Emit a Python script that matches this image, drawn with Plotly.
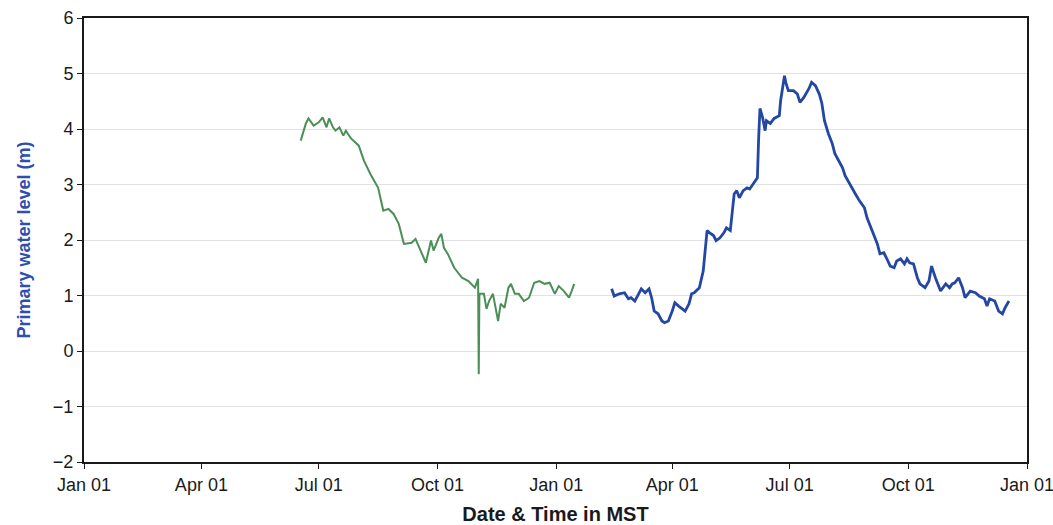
import plotly.graph_objects as go

# Series 1 (green) - first year record
green_dates = [
    "2012-06-17", "2012-06-21", "2012-06-23", "2012-06-27", "2012-07-01", "2012-07-04",
    "2012-07-07", "2012-07-09", "2012-07-12", "2012-07-14", "2012-07-17", "2012-07-20",
    "2012-07-22", "2012-07-26", "2012-08-01", "2012-08-05", "2012-08-10", "2012-08-16",
    "2012-08-20", "2012-08-24", "2012-08-28", "2012-09-01", "2012-09-05", "2012-09-11",
    "2012-09-14", "2012-09-18", "2012-09-22", "2012-09-26", "2012-09-28", "2012-10-02",
    "2012-10-04", "2012-10-06", "2012-10-09", "2012-10-14", "2012-10-20", "2012-10-25",
    "2012-10-30", "2012-11-01 12:00", "2012-11-02 00:00", "2012-11-02 12:00", "2012-11-06",
    "2012-11-08", "2012-11-10", "2012-11-13", "2012-11-17", "2012-11-19", "2012-11-22",
    "2012-11-25", "2012-11-27", "2012-11-30", "2012-12-03", "2012-12-07", "2012-12-11",
    "2012-12-15", "2012-12-19", "2012-12-23", "2012-12-27", "2012-12-31", "2013-01-03",
    "2013-01-07", "2013-01-11", "2013-01-13", "2013-01-15",
]
green_level = [
    3.79, 4.10, 4.19, 4.06, 4.12, 4.21,
    4.03, 4.19, 4.03, 3.97, 4.03, 3.88,
    3.97, 3.83, 3.70, 3.43, 3.19, 2.94,
    2.53, 2.56, 2.47, 2.29, 1.93, 1.95,
    2.02, 1.81, 1.59, 1.99, 1.81, 2.04,
    2.11, 1.86, 1.75, 1.50, 1.32, 1.26,
    1.14, 1.30, -0.42, 1.03, 1.03,
    0.76, 0.90, 1.03, 0.54, 0.85, 0.78,
    1.14, 1.21, 1.03, 1.03, 0.90, 0.96,
    1.23, 1.26, 1.21, 1.23, 1.03, 1.17,
    1.08, 0.96, 1.08, 1.21,
]

# Series 2 (blue) - second year record
blue_dates = [
    "2013-02-13", "2013-02-15", "2013-02-19", "2013-02-23", "2013-02-26", "2013-02-28",
    "2013-03-03", "2013-03-06", "2013-03-08", "2013-03-11", "2013-03-14", "2013-03-16",
    "2013-03-18", "2013-03-21", "2013-03-24", "2013-03-26", "2013-03-29", "2013-04-01",
    "2013-04-03", "2013-04-06", "2013-04-08", "2013-04-11", "2013-04-14", "2013-04-16",
    "2013-04-18", "2013-04-22", "2013-04-25", "2013-04-28", "2013-04-30", "2013-05-03",
    "2013-05-05", "2013-05-08", "2013-05-11", "2013-05-13", "2013-05-16", "2013-05-19",
    "2013-05-21", "2013-05-23", "2013-05-26", "2013-05-29", "2013-05-31", "2013-06-03",
    "2013-06-06", "2013-06-07", "2013-06-08", "2013-06-10", "2013-06-12", "2013-06-13",
    "2013-06-16", "2013-06-19", "2013-06-23", "2013-06-24", "2013-06-27", "2013-06-28",
    "2013-06-30", "2013-07-04", "2013-07-07", "2013-07-09", "2013-07-12", "2013-07-16",
    "2013-07-18", "2013-07-21", "2013-07-24", "2013-07-26", "2013-07-28", "2013-07-31",
    "2013-08-03", "2013-08-05", "2013-08-08", "2013-08-11", "2013-08-13", "2013-08-16",
    "2013-08-18", "2013-08-21", "2013-08-24", "2013-08-28", "2013-08-30", "2013-09-01",
    "2013-09-04", "2013-09-07", "2013-09-09", "2013-09-12", "2013-09-14", "2013-09-17",
    "2013-09-20", "2013-09-22", "2013-09-25", "2013-09-28", "2013-09-30", "2013-10-02",
    "2013-10-05", "2013-10-08", "2013-10-10", "2013-10-14", "2013-10-17", "2013-10-19",
    "2013-10-22", "2013-10-24", "2013-10-26", "2013-10-30", "2013-11-02", "2013-11-04",
    "2013-11-06", "2013-11-09", "2013-11-12", "2013-11-14", "2013-11-18", "2013-11-22",
    "2013-11-25", "2013-11-29", "2013-12-01", "2013-12-03", "2013-12-07", "2013-12-10",
    "2013-12-13", "2013-12-15", "2013-12-18",
]
blue_level = [
    1.12, 0.99, 1.03, 1.05, 0.94, 0.96,
    0.90, 1.03, 1.12, 1.05, 1.12, 0.96,
    0.72, 0.67, 0.54, 0.51, 0.54, 0.72,
    0.87, 0.81, 0.78, 0.72, 0.85, 1.03,
    1.05, 1.14, 1.44, 2.17, 2.13, 2.08,
    1.99, 2.04, 2.13, 2.22, 2.17, 2.83,
    2.89, 2.76, 2.89, 2.94, 2.92, 3.01,
    3.12, 3.85, 4.37, 4.21, 3.97, 4.15,
    4.10, 4.19, 4.24, 4.51, 4.96, 4.84,
    4.69, 4.69, 4.63, 4.48, 4.57, 4.73,
    4.84, 4.78, 4.63, 4.46, 4.15, 3.92,
    3.74, 3.56, 3.43, 3.30, 3.16, 3.03,
    2.94, 2.83, 2.71, 2.58, 2.40, 2.29,
    2.11, 1.93, 1.75, 1.77, 1.68, 1.53,
    1.50, 1.62, 1.66, 1.57, 1.66, 1.59,
    1.57, 1.32, 1.21, 1.14, 1.26, 1.53,
    1.32, 1.21, 1.08, 1.21, 1.14, 1.21,
    1.23, 1.32, 1.14, 0.96, 1.08, 1.05,
    0.99, 0.94, 0.81, 0.94, 0.90, 0.72,
    0.67, 0.78, 0.90,
]

x_range = ["2012-01-01", "2014-01-01"]
y_ticks = [-2, -1, 0, 1, 2, 3, 4, 5, 6]

fig = go.Figure()
fig.add_trace(go.Scatter(x=green_dates, y=green_level, mode="lines",
                         line=dict(color="#4a8f55", width=2), showlegend=False))
fig.add_trace(go.Scatter(x=blue_dates, y=blue_level, mode="lines",
                         line=dict(color="#2447a3", width=2.8), showlegend=False))

font_family = "Liberation Sans, Arial, sans-serif"
fig.update_layout(
    width=1053, height=525,
    margin=dict(l=84, r=26, t=18, b=63),
    paper_bgcolor="white", plot_bgcolor="white",
    font=dict(family=font_family, size=18, color="#1a1a1a"),
    xaxis=dict(
        range=x_range, type="date", tick0="2012-01-01", dtick="M3",
        tickformat="%b %d", ticks="outside", ticklen=5, tickcolor="#1a1a1a",
        showline=True, linecolor="#1a1a1a", linewidth=2, mirror=True,
        showgrid=False, zeroline=False, automargin=False, ticklabeloverflow="allow",
        tickfont=dict(size=18, color="#1a1a1a"),
        title=dict(text="<b>Date & Time in MST</b>", font=dict(size=20, color="#1a1a1a"),
                   standoff=19),
    ),
    yaxis=dict(
        range=[-2, 6], tickvals=y_ticks, ticks="outside", ticklen=5, tickcolor="#1a1a1a",
        showline=True, linecolor="#1a1a1a", linewidth=2, mirror=True,
        showgrid=True, gridcolor="#e2e2e2", gridwidth=1, zeroline=False, automargin=False,
        tickfont=dict(size=18, color="#1a1a1a"),
        title=dict(text="<b>Primary water level (m)</b>", font=dict(size=18, color="#2c4fb0"),
                   standoff=18),
    ),
)

fig.write_html(
    "out.html",
    config={"displayModeBar": False},
    post_script="document.body.style.margin='0';document.body.style.overflow='hidden';",
)
